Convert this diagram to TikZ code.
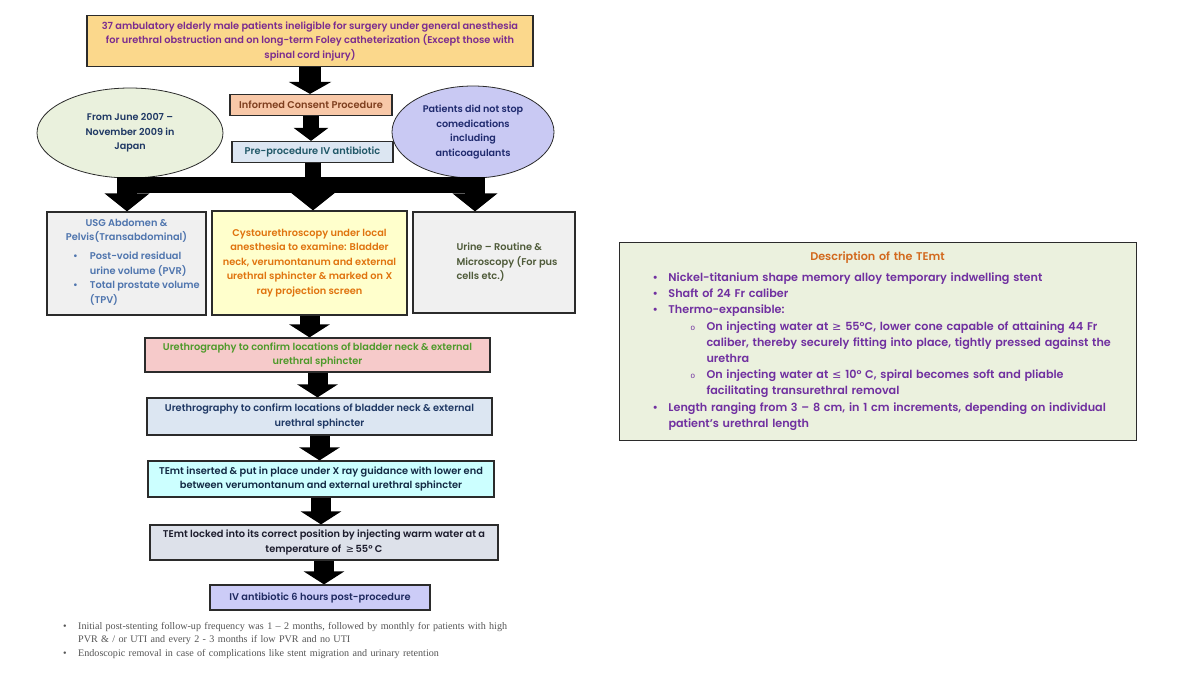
\documentclass[tikz,border=0pt]{standalone}
\usepackage{fontspec}
\setmainfont{Poppins}[UprightFont={* SemiBold}, BoldFont={* Bold}]
\newfontfamily\symfont{DejaVu Sans}
\newfontfamily\notefont{Liberation Serif}
\newfontfamily\subfont{Liberation Sans}
\usetikzlibrary{arrows.meta,shapes.geometric,positioning}

\definecolor{topfill}{HTML}{FBD88C}
\definecolor{toptext}{HTML}{7B2C8F}
\definecolor{consentfill}{HTML}{F8C8A8}
\definecolor{consenttext}{HTML}{7F3F1F}
\definecolor{prefill}{HTML}{DCE6F2}
\definecolor{pretext}{HTML}{215868}
\definecolor{leftfill}{HTML}{EAF1DD}
\definecolor{lefttext}{HTML}{1F3864}
\definecolor{rightfill}{HTML}{C9C9F3}
\definecolor{righttext}{HTML}{1F2A6E}
\definecolor{usgfill}{HTML}{F0F0F0}
\definecolor{usgtext}{HTML}{4F75AE}
\definecolor{cystofill}{HTML}{FFFFCC}
\definecolor{cystotext}{HTML}{E0740F}
\definecolor{urinetext}{HTML}{4F5B3A}
\definecolor{redfill}{HTML}{F6CACA}
\definecolor{redtext}{HTML}{4E9A2A}
\definecolor{bluefill}{HTML}{DCE6F2}
\definecolor{bluetext}{HTML}{1F3864}
\definecolor{cyanfill}{HTML}{CCFFFF}
\definecolor{cyantext}{HTML}{132A44}
\definecolor{greyfill}{HTML}{DDE1EA}
\definecolor{greytext}{HTML}{1C1C2C}
\definecolor{ivfill}{HTML}{CCCCF7}
\definecolor{ivtext}{HTML}{1F2A60}
\definecolor{descfill}{HTML}{EBF1DE}
\definecolor{desctitle}{HTML}{D2691E}
\definecolor{desctext}{HTML}{7030A0}
\definecolor{notetext}{HTML}{555555}
\definecolor{boxline}{HTML}{2B2B2B}

% list items for the description box and the notes
\newcommand{\descitem}[1]{\par\leftskip=36pt\noindent\llap{\hbox to 16pt{•\hfil}}#1\par}
\newcommand{\descsub}[1]{\par\leftskip=74pt\noindent\llap{\hbox to 16pt{{\subfont\footnotesize o}\hfil}}#1\par}
\newcommand{\noteitem}[1]{\par\leftskip=20pt\noindent\llap{\hbox to 15pt{•\hfil}}#1\par}

\tikzset{
  stepbox/.style={draw=boxline, line width=1.2pt, align=center, inner sep=2pt,
    font=\fontsize{9.8}{14.5}\selectfont},
  oval/.style={ellipse, draw=boxline, line width=0.8pt, align=center, inner sep=0pt,
    font=\fontsize{9.6}{14.5}\selectfont},
  fatarrow/.style={line width=20pt, -{Triangle[width=40pt,length=13pt]}},
  forkline/.style={line width=16pt},
}

\begin{document}
\begin{tikzpicture}[x=1pt,y=-1pt]
    \useasboundingbox[fill=white] (0,0) rectangle (1200,675);

    % main column
    \node[stepbox, fill=topfill, text=toptext, minimum width=446pt, minimum height=51pt] (top) at (310,41)
        {37 ambulatory elderly male patients ineligible for surgery under general anesthesia\\
         for urethral obstruction and on long-term Foley catheterization (Except those with\\
         spinal cord injury)};
    \node[stepbox, fill=consentfill, text=consenttext, minimum width=162pt, minimum height=21pt] (consent) at (311,105)
        {Informed Consent Procedure};
    \node[stepbox, fill=prefill, text=pretext, minimum width=161pt, minimum height=21pt] (pre) at (312.5,152)
        {Pre-procedure IV antibiotic};

    % side ovals
    \node[oval, fill=leftfill, text=lefttext, minimum width=186pt, minimum height=90pt] (period) at (130,133)
        {From June 2007 –\\November 2009 in\\Japan};
    \node[oval, fill=rightfill, text=righttext, minimum width=162pt, minimum height=92pt] (comed) at (473,132)
        {Patients did not stop\\comedications\\including\\anticoagulants};

    % three investigations
    \node[stepbox, fill=usgfill, text=usgtext, minimum width=159pt, minimum height=103pt] (usg) at (126.5,263.5)
        {USG Abdomen \&\\Pelvis(Transabdominal)\\[6pt]
         \hspace*{20pt}\begin{tabular}{@{}l@{\hspace{12pt}}l@{}}
           • & Post-void residual\\
             & urine volume (PVR)\\
           • & Total prostate volume\\
             & (TPV)
         \end{tabular}};
    \node[stepbox, fill=cystofill, text=cystotext, minimum width=195pt, minimum height=104pt] (cysto) at (309.5,263)
        {Cystourethroscopy under local\\anesthesia to examine: Bladder\\neck, verumontanum and external\\
         urethral sphincter \& marked on X\\ray projection screen};
    \node[stepbox, fill=usgfill, text=urinetext, minimum width=162pt, minimum height=101pt] (urine) at (494,262.5)
        {\hspace*{26pt}\begin{tabular}{@{}l@{}}
           Urine – Routine \&\\
           Microscopy (For pus\\
           cells etc.)
         \end{tabular}};

    \node[stepbox, fill=redfill, text=redtext, minimum width=345pt, minimum height=34pt] (red) at (317.5,355)
        {Urethrography to confirm locations of bladder neck \& external\\urethral sphincter};
    \node[stepbox, fill=bluefill, text=bluetext, minimum width=345pt, minimum height=37pt] (blue) at (319.5,416.5)
        {Urethrography to confirm locations of bladder neck \& external\\urethral sphincter};
    \node[stepbox, fill=cyanfill, text=cyantext, minimum width=346pt, minimum height=36pt] (insert) at (321,479)
        {TEmt inserted \& put in place under X ray guidance with lower end\\
         between verumontanum and external urethral sphincter};
    \node[stepbox, fill=greyfill, text=greytext, minimum width=348pt, minimum height=35pt] (lock) at (324,542.5)
        {TEmt locked into its correct position by injecting warm water at a\\
         temperature of \ {\symfont ≥}\,55° C};
    \node[stepbox, fill=ivfill, text=ivtext, minimum width=220pt, minimum height=25pt] (post) at (320,597.5)
        {IV antibiotic 6 hours post-procedure};

    % fat arrows
    \draw[fatarrow, line width=22pt, -{Triangle[width=42pt,length=12pt]}] (top.south) -- (top.south |- consent.north);
    \draw[fatarrow, line width=16pt, -{Triangle[width=34pt,length=13pt]}] (consent.south) -- (consent.south |- pre.north);
    \draw[fatarrow] (cysto.south) -- (cysto.south |- red.north);
    \draw[fatarrow] (red.south) -- (red.south |- blue.north);
    \draw[fatarrow] (blue.south) -- (blue.south |- insert.north);
    \draw[fatarrow] (insert.south) -- (insert.south |- lock.north);
    \draw[fatarrow] (lock.south) -- (lock.south |- post.north);

    % fork to the three investigations
    \coordinate (forkL) at (127,185);
    \coordinate (forkM) at (313,185);
    \coordinate (forkR) at (475,185);
    \draw[forkline] (pre.south) -- (pre.south |- forkM);
    \draw[forkline] ([xshift=-10pt]forkL) -- ([xshift=10pt]forkR);
    \draw[fatarrow, -{Triangle[width=44pt,length=18pt]}] (forkL) -- (forkL |- usg.north);
    \draw[fatarrow, -{Triangle[width=44pt,length=18pt]}] (forkM) -- (forkM |- cysto.north);
    \draw[fatarrow, -{Triangle[width=44pt,length=18pt]}] (forkR) -- (forkR |- urine.north);

    % notes below the chart
    \node[text=notetext, text width=480pt, align=left, inner sep=0pt, anchor=north west,
          font=\notefont\fontsize{10.1}{13.8}\selectfont] (notes) at (58,615)
        {\noteitem{Initial post-stenting follow-up frequency was 1 – 2 months, followed by monthly for patients with high\newline
                   PVR \& / or UTI and every 2 - 3 months if low PVR and no UTI}
         \noteitem{Endoscopic removal in case of complications like stent migration and urinary retention}};

    % description of the stent
    \node[draw=boxline, line width=1pt, fill=descfill, text=desctext, text width=490pt, inner xsep=13.5pt,
          align=left, minimum height=198pt, font=\fontsize{11.2}{16.2}\selectfont] (desc) at (877.5,341)
        {{\centering\color{desctitle}Description of the TEmt\par}\vspace{5pt}
         \descitem{Nickel-titanium shape memory alloy temporary indwelling stent}
         \descitem{Shaft of 24 Fr caliber}
         \descitem{Thermo-expansible:}
         \descsub{On injecting water at {\symfont ≥} 55°C, lower cone capable of attaining 44 Fr\newline
                  caliber, thereby securely fitting into place, tightly pressed against the\newline urethra}
         \descsub{On injecting water at {\symfont ≤} 10° C, spiral becomes soft and pliable\newline
                  facilitating transurethral removal}
         \descitem{Length ranging from 3 – 8 cm, in 1 cm increments, depending on individual\newline
                   patient’s urethral length}};
\end{tikzpicture}
\end{document}
